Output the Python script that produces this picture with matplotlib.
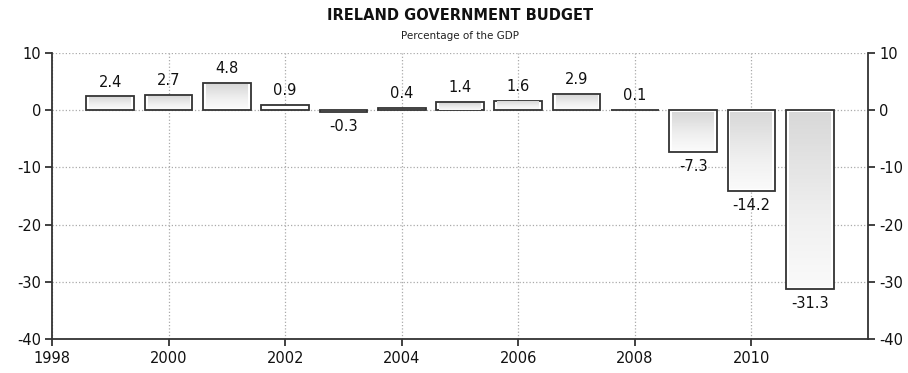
import numpy as np
import matplotlib.pyplot as plt

years = [1999, 2000, 2001, 2002, 2003, 2004, 2005, 2006, 2007, 2008, 2009, 2010, 2011]
budget = [2.4, 2.7, 4.8, 0.9, -0.3, 0.4, 1.4, 1.6, 2.9, 0.1, -7.3, -14.2, -31.3]

plt.rcParams['font.family'] = ['DejaVu Sans']
plt.rcParams['axes.unicode_minus'] = False

fig = plt.figure(figsize=(9.08, 3.73), dpi=100)
ax = fig.add_axes([52 / 908, 1 - 339 / 373, (868 - 52) / 908, (339 - 53) / 373])

ax.set_xlim(1998, 2012)
ax.set_ylim(-40, 10)
ax.set_xticks(range(1998, 2012, 2))
ax.set_yticks(range(-40, 11, 10))

ax.grid(True, linestyle=':', color='#aaaaaa', linewidth=0.9)
ax.set_axisbelow(True)

ax.spines['top'].set_visible(False)
for s in ['left', 'right', 'bottom']:
    ax.spines[s].set_color('#333333')
    ax.spines[s].set_linewidth(1.3)

ax.tick_params(axis='both', direction='out', length=5, width=1.3, color='#333333',
               labelsize=10.5, labelcolor='#111111')
ax.tick_params(axis='y', right=True, labelright=True, pad=3)

width = 0.82
grad = np.linspace(0, 1, 100).reshape(-1, 1)
for yr, v in zip(years, budget):
    x0 = yr - width / 2
    ax.bar(yr, v, width=width, color='white', edgecolor='#333333', linewidth=1.3, zorder=2)
    # soft grey fill inside each bar, darker towards its top edge
    if abs(v) > 1:
        ins_x = 0.05
        ins_y = min(0.4, abs(v) * 0.08)
        top = max(v, 0) - ins_y
        bot = min(v, 0) + ins_y
        ax.imshow(grad, extent=[x0 + ins_x, x0 + width - ins_x, bot, top], origin='lower',
                  cmap='Greys', vmin=-0.2, vmax=4.5, aspect='auto', zorder=3,
                  interpolation='bilinear')
    if v >= 0:
        ax.text(yr, v + 1.2, f'{v}', ha='center', va='bottom', fontsize=10.5, color='#111111')
    else:
        ax.text(yr, v - 1.2, f'{v}', ha='center', va='top', fontsize=10.5, color='#111111')

ax.set_xlim(1998, 2012)
ax.set_ylim(-40, 10)

fig.text(0.507, 1 - 16 / 373, 'IRELAND GOVERNMENT BUDGET', ha='center', va='center',
         fontsize=10.5, fontweight='bold', color='#111111')
fig.text(0.507, 1 - 36 / 373, 'Percentage of the GDP', ha='center', va='center',
         fontsize=7.5, color='#222222')

fig.savefig('out.png', dpi=100)
